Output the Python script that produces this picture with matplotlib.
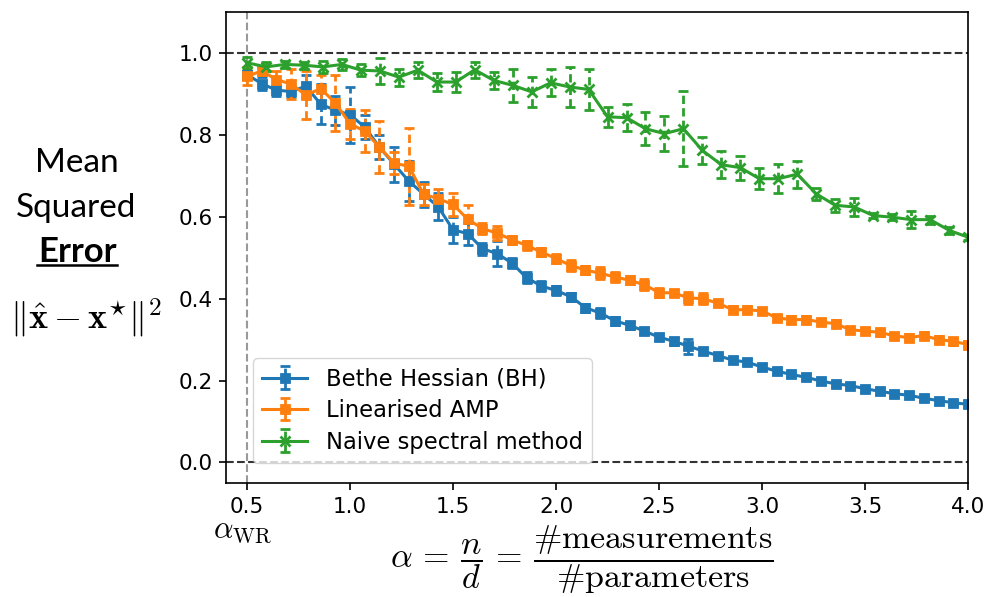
import numpy as np
import matplotlib.pyplot as plt
from matplotlib.lines import Line2D

plt.rcParams['mathtext.fontset'] = 'cm'

# alpha grids (measurement ratio)
alpha_bh = np.linspace(0.5, 4.0, 50)
alpha_naive = np.linspace(0.5, 4.0, 39)

# Bethe Hessian
mse_bh = [0.947, 0.925, 0.909, 0.906, 0.919, 0.875, 0.860, 0.849, 0.819, 0.770,
          0.728, 0.687, 0.655, 0.624, 0.568, 0.559, 0.522, 0.510, 0.487, 0.451,
          0.431, 0.420, 0.405, 0.378, 0.365, 0.346, 0.335, 0.321, 0.306, 0.296,
          0.284, 0.272, 0.261, 0.250, 0.245, 0.233, 0.223, 0.215, 0.208, 0.199,
          0.192, 0.188, 0.180, 0.174, 0.168, 0.164, 0.157, 0.151, 0.146, 0.142]
err_bh = [0.010, 0.016, 0.013, 0.014, 0.026, 0.049, 0.035, 0.069, 0.030, 0.030,
          0.043, 0.048, 0.031, 0.033, 0.031, 0.027, 0.015, 0.030, 0.012, 0.013,
          0.012, 0.012, 0.010, 0.010, 0.012, 0.010, 0.008, 0.008, 0.008, 0.008,
          0.018, 0.008, 0.007, 0.007, 0.007, 0.007, 0.007, 0.007, 0.007, 0.007,
          0.007, 0.007, 0.007, 0.007, 0.007, 0.007, 0.007, 0.007, 0.007, 0.007]

# Linearised AMP
mse_amp = [0.943, 0.956, 0.935, 0.924, 0.897, 0.913, 0.878, 0.827, 0.809, 0.770,
           0.731, 0.723, 0.655, 0.644, 0.630, 0.594, 0.571, 0.560, 0.544, 0.530,
           0.514, 0.498, 0.481, 0.470, 0.462, 0.453, 0.445, 0.434, 0.415, 0.414,
           0.402, 0.400, 0.389, 0.373, 0.373, 0.370, 0.353, 0.349, 0.349, 0.343,
           0.339, 0.324, 0.321, 0.318, 0.309, 0.305, 0.310, 0.300, 0.296, 0.288]
err_amp = [0.022, 0.010, 0.022, 0.037, 0.058, 0.034, 0.069, 0.037, 0.051, 0.063,
           0.026, 0.094, 0.026, 0.024, 0.029, 0.035, 0.014, 0.017, 0.010, 0.011,
           0.010, 0.010, 0.013, 0.010, 0.015, 0.013, 0.010, 0.013, 0.010, 0.008,
           0.015, 0.013, 0.008, 0.008, 0.008, 0.008, 0.008, 0.008, 0.008, 0.008,
           0.008, 0.008, 0.008, 0.008, 0.008, 0.008, 0.008, 0.008, 0.008, 0.008]

# Naive spectral method
mse_naive = [0.976, 0.966, 0.972, 0.970, 0.966, 0.972, 0.958, 0.956, 0.941, 0.958,
             0.929, 0.929, 0.959, 0.933, 0.921, 0.905, 0.927, 0.917, 0.911, 0.844,
             0.842, 0.815, 0.803, 0.815, 0.762, 0.727, 0.720, 0.693, 0.693, 0.704,
             0.656, 0.628, 0.624, 0.603, 0.599, 0.593, 0.593, 0.567, 0.550]
err_naive = [0.014, 0.011, 0.008, 0.009, 0.015, 0.013, 0.014, 0.032, 0.021, 0.019,
             0.022, 0.024, 0.020, 0.020, 0.040, 0.036, 0.033, 0.048, 0.050, 0.024,
             0.033, 0.040, 0.042, 0.092, 0.033, 0.033, 0.029, 0.026, 0.035, 0.033,
             0.014, 0.016, 0.022, 0.007, 0.008, 0.021, 0.010, 0.009, 0.006]

fig = plt.figure(figsize=(9.88, 5.97), dpi=100)
ax = fig.add_axes([0.2292, 0.1910, 0.7506, 0.7889])

ax.axhline(1.0, color='k', ls='--', lw=1.5, alpha=0.8)
ax.axhline(0.0, color='k', ls='--', lw=1.5, alpha=0.8)
ax.axvline(0.5, color='0.6', ls='--', lw=1.5)

series = [
    (alpha_bh, mse_bh, err_bh, 'C0', 's', 6, 'Bethe Hessian (BH)'),
    (alpha_bh, mse_amp, err_amp, 'C1', 's', 6, 'Linearised AMP'),
    (alpha_naive, mse_naive, err_naive, 'C2', 'x', 7, 'Naive spectral method'),
]
for x, y, e, c, m, ms, lab in series:
    eb = ax.errorbar(x, y, yerr=e, color=c, marker=m, ms=ms, mew=2, lw=2.2,
                     elinewidth=2, capsize=3.5, capthick=2.2, label=lab)
    eb[2][0].set_linestyle((0, (3, 1.5)))

ax.set_xlim(0.4, 4.0)
ax.set_ylim(-0.05, 1.1)
ax.set_xticks(np.arange(0.5, 4.01, 0.5))
ax.set_yticks(np.arange(0.0, 1.01, 0.2))
ax.tick_params(labelsize=15.5, length=5, width=1.2, pad=5)
for s in ax.spines.values():
    s.set_linewidth(1.2)

ax.legend(loc='lower left', bbox_to_anchor=(0.036, 0.043), borderaxespad=0,
          fontsize=16.3, labelspacing=0.38, framealpha=0.8)

# y label block
fig.text(0.078, 0.7124, 'Mean', ha='center', va='baseline', fontsize=24, family='Lato')
fig.text(0.077, 0.637, 'Squared', ha='center', va='baseline', fontsize=24, family='Lato')
fig.text(0.078, 0.5616, 'Error', ha='center', va='baseline', fontsize=25,
         family='Lato', fontweight='bold')
fig.add_artist(Line2D([0.0375, 0.118], [0.5553, 0.5553], transform=fig.transFigure,
                      color='k', lw=1.8))
fig.text(0.087, 0.467, r'$\|\hat{\mathbf{x}} - \mathbf{x}^{\star}\|^2$',
         ha='center', va='center', fontsize=26)

# x label block
fig.text(0.246, 0.112, r'$\alpha_{\mathrm{WR}}$', ha='center', va='center', fontsize=22)
fig.text(0.589, 0.062,
         r'$\alpha\, =\, \dfrac{n}{d}\, =\, \dfrac{\#\mathrm{measurements}}{\#\mathrm{parameters}}$',
         ha='center', va='center', fontsize=24.5)

plt.savefig('out.png', dpi=100)
